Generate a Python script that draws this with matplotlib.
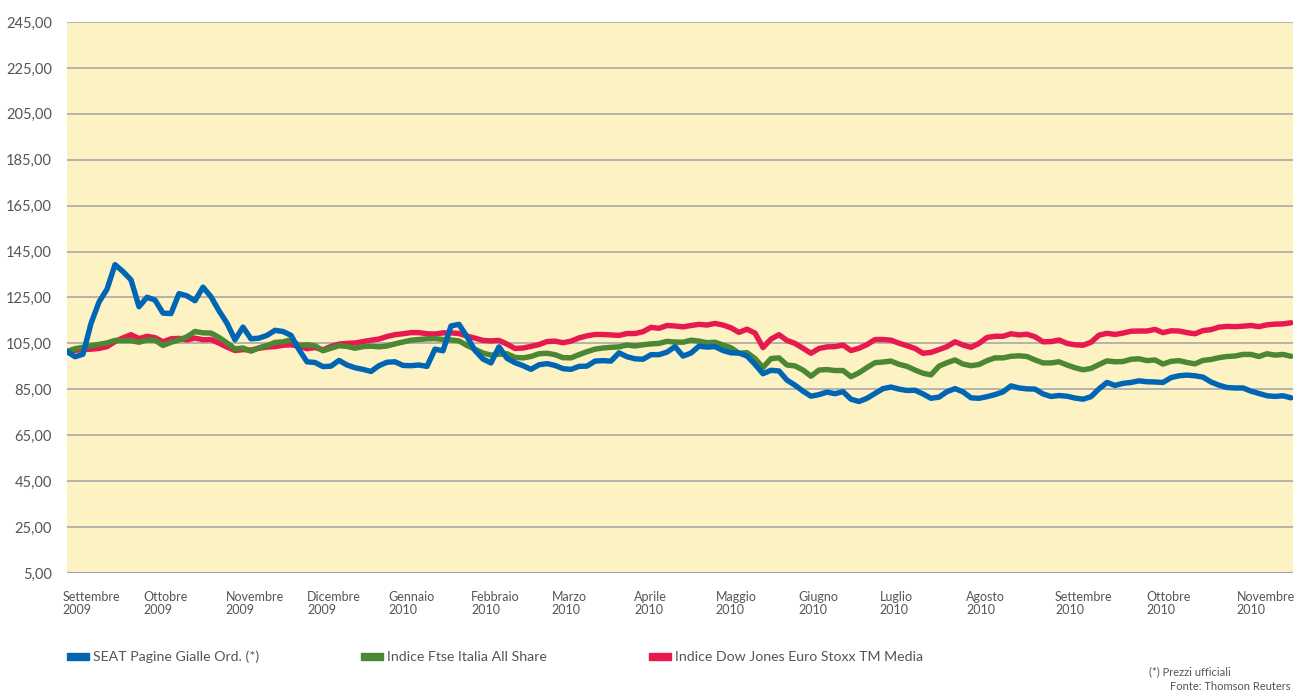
import numpy as np
import matplotlib
matplotlib.use("Agg")
import matplotlib.pyplot as plt
from matplotlib.patches import Rectangle

plt.rcParams['font.family'] = ['Lato', 'DejaVu Sans']

# Weekly-ish samples (index 0..153), Settembre 2009 -> Novembre 2010, base ~100
seat = [
    101.5, 99.2, 100.3, 113.7, 123.0, 128.6, 139.3, 136.3, 132.7, 121.0,
    125.1, 123.9, 118.2, 118.0, 126.7, 125.7, 123.6, 129.5, 125.3, 119.2,
    113.8, 106.6, 112.1, 107.0, 107.3, 108.5, 110.7, 110.2, 108.5, 102.3,
    97.0, 96.7, 94.9, 95.1, 97.6, 95.6, 94.4, 93.7, 92.8, 95.3,
    96.8, 97.0, 95.4, 95.3, 95.6, 95.0, 102.5, 101.8, 112.6, 113.3,
    107.9, 101.9, 98.2, 96.5, 103.5, 98.5, 96.6, 95.3, 93.7, 95.7,
    96.2, 95.4, 94.0, 93.7, 95.0, 95.1, 97.3, 97.5, 97.3, 100.9,
    99.2, 98.3, 98.1, 100.1, 100.1, 101.2, 103.6, 99.5, 100.8, 103.8,
    103.4, 103.6, 101.9, 100.9, 100.8, 99.5, 95.9, 91.8, 93.3, 93.0,
    89.0, 86.8, 84.2, 82.0, 82.7, 83.8, 83.1, 84.0, 80.7, 79.7,
    81.1, 83.2, 85.3, 86.0, 85.1, 84.5, 84.6, 83.0, 81.1, 81.6,
    84.0, 85.3, 83.9, 81.3, 81.1, 81.8, 82.7, 83.9, 86.5, 85.6,
    85.2, 85.1, 83.0, 81.9, 82.3, 82.0, 81.2, 80.7, 81.8, 85.2,
    88.0, 86.7, 87.6, 88.0, 88.7, 88.3, 88.2, 88.0, 90.1, 90.9,
    91.2, 90.9, 90.3, 88.2, 86.8, 85.8, 85.6, 85.6, 84.2, 83.2,
    82.2, 81.9, 82.2, 81.3,
]

ftse = [
    101.5, 102.7, 103.3, 104.0, 104.6, 105.2, 106.3, 106.2, 106.2, 105.5,
    106.5, 106.4, 104.1, 105.5, 106.5, 107.9, 110.2, 109.6, 109.5, 107.6,
    105.2, 102.6, 103.0, 101.6, 103.1, 104.1, 105.4, 105.7, 106.5, 104.2,
    104.4, 104.0, 101.8, 102.9, 104.0, 103.7, 102.9, 103.6, 103.8, 103.5,
    103.9, 104.8, 105.6, 106.4, 106.7, 107.0, 107.1, 106.7, 106.5, 106.1,
    104.1, 102.5, 100.8, 99.9, 100.3, 100.5, 98.9, 98.7, 99.3, 100.5,
    100.7, 100.1, 98.8, 98.7, 100.1, 101.4, 102.5, 103.0, 103.3, 103.5,
    104.3, 103.9, 104.4, 104.8, 105.0, 105.9, 105.6, 105.5, 106.4, 106.0,
    105.3, 105.5, 104.3, 103.1, 100.7, 101.0, 98.4, 94.5, 98.4, 98.7,
    95.6, 95.2, 93.4, 90.7, 93.4, 93.6, 93.2, 93.2, 90.5, 92.2,
    94.5, 96.6, 96.9, 97.3, 95.9, 95.0, 93.4, 92.0, 91.3, 95.1,
    96.6, 97.8, 96.0, 95.3, 95.8, 97.5, 98.7, 98.7, 99.4, 99.6,
    99.3, 97.8, 96.5, 96.5, 97.0, 95.6, 94.4, 93.5, 94.1, 95.8,
    97.4, 97.0, 97.1, 98.1, 98.3, 97.5, 97.8, 96.0, 97.2, 97.5,
    96.7, 96.1, 97.6, 98.0, 98.8, 99.3, 99.5, 100.2, 100.2, 99.3,
    100.5, 99.9, 100.2, 99.4,
]

stoxx_media = [
    101.5, 102.0, 102.3, 102.5, 102.8, 103.6, 105.8, 107.4, 108.8, 107.1,
    108.1, 107.5, 105.7, 107.0, 107.2, 106.5, 107.3, 106.6, 106.7, 105.1,
    103.4, 101.9, 102.3, 102.1, 102.9, 103.4, 103.6, 104.2, 104.4, 103.8,
    102.7, 103.2, 102.2, 103.7, 104.7, 105.0, 105.2, 105.8, 106.4, 106.9,
    108.0, 108.8, 109.2, 109.7, 109.7, 109.2, 109.1, 109.6, 109.6, 109.3,
    108.2, 107.3, 106.3, 106.1, 106.3, 104.7, 102.8, 103.0, 103.7, 104.5,
    105.8, 106.0, 105.3, 106.0, 107.4, 108.3, 108.9, 108.9, 108.7, 108.5,
    109.3, 109.3, 110.1, 112.0, 111.6, 112.8, 112.6, 112.2, 112.8, 113.3,
    113.0, 113.7, 113.0, 111.8, 109.8, 111.2, 109.5, 103.2, 106.9, 108.8,
    106.3, 105.0, 102.9, 100.7, 102.8, 103.5, 103.6, 104.3, 101.9, 102.9,
    104.5, 106.7, 106.7, 106.4, 105.1, 104.0, 102.8, 100.7, 101.1, 102.3,
    103.6, 105.7, 104.3, 103.3, 105.0, 107.6, 108.1, 108.1, 109.2, 108.7,
    109.0, 107.9, 105.7, 105.8, 106.5, 105.0, 104.4, 104.2, 105.5, 108.6,
    109.4, 108.9, 109.5, 110.3, 110.4, 110.4, 111.1, 109.7, 110.5, 110.4,
    109.7, 109.2, 110.6, 111.0, 112.1, 112.4, 112.3, 112.5, 112.8, 112.3,
    113.1, 113.4, 113.5, 114.0,
]

month_labels = [
    "Settembre\n2009", "Ottobre\n2009", "Novembre\n2009", "Dicembre\n2009",
    "Gennaio\n2010", "Febbraio\n2010", "Marzo\n2010", "Aprile\n2010",
    "Maggio\n2010", "Giugno\n2010", "Luglio\n2010", "Agosto\n2010",
    "Settembre\n2010", "Ottobre\n2010", "Novembre\n2010",
]
month_pos = [-0.6, 9.6, 19.8, 30.0, 40.2, 50.5, 60.6, 70.9, 81.1, 91.4,
             101.6, 112.4, 123.5, 134.9, 146.2]

y_ticks = list(range(5, 246, 20))

series_names = ["SEAT Pagine Gialle Ord. (*)", "Indice Ftse Italia All Share",
                "Indice Dow Jones Euro Stoxx TM Media"]
colors = ["#0066B3", "#4C8733", "#E8194F"]

W, H = 1305, 693
fig = plt.figure(figsize=(W / 100, H / 100), dpi=100)
ax = fig.add_axes([67 / W, 1 - 573 / H, 1226 / W, 551 / H])
ax.set_facecolor("#FDF2C4")

x = np.arange(len(seat))
ax.plot(x, stoxx_media, color=colors[2], lw=3.9, solid_capstyle='round', zorder=3)
ax.plot(x, ftse, color=colors[1], lw=3.9, solid_capstyle='round', zorder=4)
ax.plot(x, seat, color=colors[0], lw=3.9, solid_capstyle='round', zorder=5)

ax.set_xlim(0, len(seat) - 0.75)
ax.set_ylim(5, 245)
ax.set_yticks(y_ticks)
ax.set_yticklabels([f"{v},00" for v in y_ticks], fontsize=10.5, color="#555555")
ax.tick_params(axis='y', length=0, pad=11)
ax.set_xticks([])
for v in y_ticks:
    ax.axhline(v, color="#A8A8A8", lw=1.2, zorder=1)
ax.axhline(5, color="#A0A0A0", lw=2.2, zorder=2)
for s in ax.spines.values():
    s.set_visible(False)

for pos, lab in zip(month_pos, month_labels):
    ax.text(pos, -0.032, lab, transform=ax.get_xaxis_transform(), ha='left', va='top',
            fontsize=9, color="#555555", linespacing=1.15, clip_on=False)

# legend drawn by hand
leg_x = [67, 361, 649]
for lx, name, c in zip(leg_x, series_names, colors):
    fig.patches.append(Rectangle((lx / W, 1 - 660 / H), 22 / W, 7 / H,
                                 transform=fig.transFigure, color=c))
    fig.text((lx + 26) / W, 1 - 657 / H, name, ha='left', va='center',
             fontsize=10.2, color="#555555")

fig.text(1149 / W, 1 - 672 / H, "(*) Prezzi ufficiali", ha='left', va='center',
         fontsize=8, color="#555555")
fig.text(1290 / W, 1 - 686 / H, "Fonte: Thomson Reuters", ha='right', va='center',
         fontsize=8, color="#555555")

fig.savefig("out.png", dpi=100)
